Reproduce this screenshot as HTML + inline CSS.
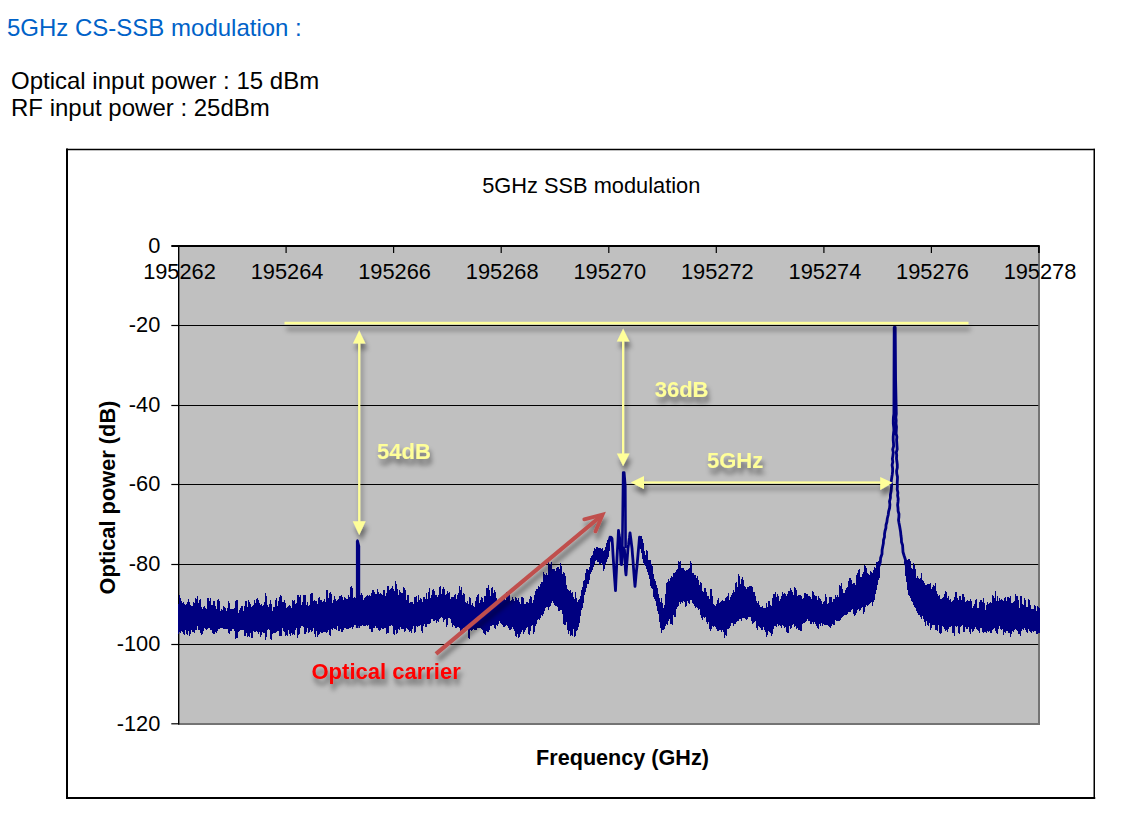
<!DOCTYPE html>
<html><head><meta charset="utf-8"><style>
html,body{margin:0;padding:0;background:#fff;width:1137px;height:820px;overflow:hidden}
.t{position:absolute;font-family:"Liberation Sans",sans-serif;white-space:nowrap;line-height:1}
svg{position:absolute;left:0;top:0}
svg text{font-family:"Liberation Sans",sans-serif}
</style></head><body>
<div class="t" style="left:7px;top:16px;font-size:24px;color:#0062C8">5GHz CS-SSB modulation :</div>
<div class="t" style="left:11px;top:69px;font-size:24px;color:#000">Optical input power : 15 dBm</div>
<div class="t" style="left:11px;top:96px;font-size:24px;color:#000">RF input power : 25dBm</div>
<svg width="1137" height="820" viewBox="0 0 1137 820">
<defs>
<filter id="sh" x="-50%" y="-50%" width="200%" height="200%">
<feGaussianBlur in="SourceAlpha" stdDeviation="2.7"/>
<feOffset dx="1.5" dy="6" result="o"/>
<feFlood flood-color="#000" flood-opacity="0.45"/>
<feComposite in2="o" operator="in"/>
<feMerge><feMergeNode/><feMergeNode in="SourceGraphic"/></feMerge>
</filter>
</defs>
<g stroke="#000" stroke-linecap="square">
<line x1="67" y1="149.5" x2="1094.25" y2="149.5" stroke-width="1.3"/>
<line x1="67" y1="149.5" x2="67" y2="798" stroke-width="2"/>
<line x1="1094.25" y1="149.5" x2="1094.25" y2="798" stroke-width="1.5"/>
<line x1="67" y1="798" x2="1094.25" y2="798" stroke-width="2"/>
</g>
<rect x="178.5" y="246" width="860.5" height="478" fill="#C0C0C0"/>
<line x1="1039" y1="246" x2="1039" y2="725" stroke="#747474" stroke-width="2"/>
<line x1="178" y1="724" x2="1040" y2="724" stroke="#747474" stroke-width="2"/>
<g stroke="#000" stroke-width="1"><line x1="179" y1="325.5" x2="1038.3" y2="325.5" /><line x1="179" y1="405.5" x2="1038.3" y2="405.5" /><line x1="179" y1="484.5" x2="1038.3" y2="484.5" /><line x1="179" y1="564.5" x2="1038.3" y2="564.5" /><line x1="179" y1="644.5" x2="1038.3" y2="644.5" /></g>
<g stroke="#000" stroke-width="1.2"><line x1="171.3" y1="325.5" x2="178.5" y2="325.5" /><line x1="171.3" y1="405.5" x2="178.5" y2="405.5" /><line x1="171.3" y1="484.5" x2="178.5" y2="484.5" /><line x1="171.3" y1="564.5" x2="178.5" y2="564.5" /><line x1="171.3" y1="644.5" x2="178.5" y2="644.5" /><line x1="171.3" y1="723.8" x2="178.5" y2="723.8" /><line x1="286.1" y1="246" x2="286.1" y2="253" /><line x1="393.6" y1="246" x2="393.6" y2="253" /><line x1="501.2" y1="246" x2="501.2" y2="253" /><line x1="608.8" y1="246" x2="608.8" y2="253" /><line x1="716.3" y1="246" x2="716.3" y2="253" /><line x1="823.9" y1="246" x2="823.9" y2="253" /><line x1="931.4" y1="246" x2="931.4" y2="253" /><line x1="1039.0" y1="246" x2="1039.0" y2="253" /></g>
<line x1="178.7" y1="245" x2="178.7" y2="724.5" stroke="#000" stroke-width="1.4"/>
<line x1="171.3" y1="246" x2="1039.5" y2="246" stroke="#000" stroke-width="2"/>
<line x1="1038.8" y1="245" x2="1038.8" y2="253" stroke="#000" stroke-width="1.4"/>
<g font-size="21.8" fill="#000"><text x="160.3" y="252.6" text-anchor="end">0</text><text x="160.3" y="332.0" text-anchor="end">-20</text><text x="160.3" y="412.0" text-anchor="end">-40</text><text x="160.3" y="491.3" text-anchor="end">-60</text><text x="160.3" y="571.1" text-anchor="end">-80</text><text x="160.3" y="651.2" text-anchor="end">-100</text><text x="160.3" y="731.3" text-anchor="end">-120</text><text x="179.5" y="278.6" text-anchor="middle">195262</text><text x="287.1" y="278.6" text-anchor="middle">195264</text><text x="394.6" y="278.6" text-anchor="middle">195266</text><text x="502.2" y="278.6" text-anchor="middle">195268</text><text x="609.8" y="278.6" text-anchor="middle">195270</text><text x="717.3" y="278.6" text-anchor="middle">195272</text><text x="824.9" y="278.6" text-anchor="middle">195274</text><text x="932.4" y="278.6" text-anchor="middle">195276</text><text x="1040.0" y="278.6" text-anchor="middle">195278</text>
<text x="591.3" y="192.8" text-anchor="middle">5GHz SSB modulation</text>
<text x="622.5" y="765" text-anchor="middle" font-weight="bold" font-size="21.6">Frequency (GHz)</text>
<text transform="translate(114.6,497.5) rotate(-90)" text-anchor="middle" font-weight="bold">Optical power (dB)</text>
</g>
<path d="M178 604h1V634h-1zM179 595h1V632h-1zM180 598h1V633h-1zM181 601h1V631h-1zM182 603h1V632h-1zM183 602h1V634h-1zM184 604h1V635h-1zM185 605h1V630h-1zM186 604h1V634h-1zM187 602h1V635h-1zM188 599h1V631h-1zM189 602h1V636h-1zM190 605h1V634h-1zM191 606h1V630h-1zM192 606h1V632h-1zM193 602h1V632h-1zM194 603h1V633h-1zM195 598h1V630h-1zM196 599h1V630h-1zM197 596h1V626h-1zM198 603h1V630h-1zM199 600h1V630h-1zM200 599h1V633h-1zM201 607h1V635h-1zM202 609h1V634h-1zM203 607h1V631h-1zM204 606h1V628h-1zM205 608h1V629h-1zM206 609h1V630h-1zM207 598h1V629h-1zM208 598h1V628h-1zM209 601h1V628h-1zM210 598h1V630h-1zM211 605h1V630h-1zM212 605h1V633h-1zM213 601h1V634h-1zM214 601h1V634h-1zM215 606h1V632h-1zM216 609h1V633h-1zM217 600h1V631h-1zM218 599h1V629h-1zM219 601h1V629h-1zM220 611h1V628h-1zM221 609h1V628h-1zM222 610h1V628h-1zM223 606h1V629h-1zM224 607h1V629h-1zM225 608h1V629h-1zM226 611h1V629h-1zM227 608h1V629h-1zM228 601h1V633h-1zM229 603h1V634h-1zM230 609h1V631h-1zM231 609h1V631h-1zM232 609h1V629h-1zM233 609h1V629h-1zM234 608h1V631h-1zM235 601h1V639h-1zM236 600h1V638h-1zM237 600h1V638h-1zM238 613h1V632h-1zM239 610h1V631h-1zM240 608h1V630h-1zM241 606h1V630h-1zM242 606h1V630h-1zM243 611h1V630h-1zM244 606h1V636h-1zM245 601h1V636h-1zM246 601h1V633h-1zM247 607h1V637h-1zM248 600h1V636h-1zM249 602h1V637h-1zM250 604h1V633h-1zM251 607h1V638h-1zM252 606h1V638h-1zM253 605h1V631h-1zM254 600h1V632h-1zM255 603h1V632h-1zM256 599h1V631h-1zM257 598h1V632h-1zM258 600h1V634h-1zM259 603h1V632h-1zM260 605h1V637h-1zM261 604h1V635h-1zM262 606h1V632h-1zM263 605h1V633h-1zM264 602h1V633h-1zM265 593h1V640h-1zM266 596h1V637h-1zM267 605h1V630h-1zM268 607h1V629h-1zM269 604h1V630h-1zM270 600h1V639h-1zM271 604h1V640h-1zM272 611h1V634h-1zM273 607h1V633h-1zM274 607h1V633h-1zM275 600h1V633h-1zM276 598h1V632h-1zM277 606h1V631h-1zM278 601h1V631h-1zM279 597h1V636h-1zM280 595h1V636h-1zM281 596h1V636h-1zM282 602h1V628h-1zM283 602h1V631h-1zM284 600h1V632h-1zM285 603h1V636h-1zM286 608h1V635h-1zM287 607h1V636h-1zM288 606h1V630h-1zM289 605h1V634h-1zM290 606h1V636h-1zM291 608h1V633h-1zM292 600h1V635h-1zM293 601h1V634h-1zM294 600h1V635h-1zM295 604h1V630h-1zM296 603h1V628h-1zM297 595h1V638h-1zM298 595h1V635h-1zM299 597h1V634h-1zM300 595h1V628h-1zM301 605h1V626h-1zM302 602h1V626h-1zM303 595h1V627h-1zM304 595h1V634h-1zM305 595h1V634h-1zM306 605h1V632h-1zM307 602h1V628h-1zM308 606h1V633h-1zM309 605h1V632h-1zM310 594h1V630h-1zM311 593h1V632h-1zM312 593h1V631h-1zM313 601h1V628h-1zM314 600h1V634h-1zM315 601h1V637h-1zM316 601h1V631h-1zM317 604h1V637h-1zM318 598h1V635h-1zM319 597h1V634h-1zM320 600h1V632h-1zM321 600h1V633h-1zM322 602h1V633h-1zM323 601h1V632h-1zM324 599h1V632h-1zM325 602h1V632h-1zM326 590h1V633h-1zM327 590h1V632h-1zM328 598h1V630h-1zM329 593h1V635h-1zM330 592h1V636h-1zM331 594h1V629h-1zM332 603h1V630h-1zM333 600h1V628h-1zM334 596h1V629h-1zM335 599h1V629h-1zM336 601h1V630h-1zM337 600h1V626h-1zM338 599h1V631h-1zM339 596h1V631h-1zM340 596h1V629h-1zM341 595h1V632h-1zM342 597h1V632h-1zM343 600h1V630h-1zM344 597h1V628h-1zM345 598h1V628h-1zM346 599h1V629h-1zM347 599h1V629h-1zM348 595h1V629h-1zM349 597h1V628h-1zM350 587h1V628h-1zM351 586h1V627h-1zM352 588h1V629h-1zM353 598h1V627h-1zM354 597h1V625h-1zM355 598h1V625h-1zM356 602h1V626h-1zM357 598h1V625h-1zM358 599h1V626h-1zM359 593h1V628h-1zM360 595h1V626h-1zM361 593h1V626h-1zM362 595h1V625h-1zM363 600h1V626h-1zM364 598h1V626h-1zM365 597h1V626h-1zM366 596h1V625h-1zM367 595h1V626h-1zM368 596h1V625h-1zM369 595h1V629h-1zM370 596h1V629h-1zM371 593h1V632h-1zM372 590h1V632h-1zM373 590h1V628h-1zM374 592h1V628h-1zM375 594h1V626h-1zM376 594h1V628h-1zM377 589h1V628h-1zM378 592h1V630h-1zM379 594h1V631h-1zM380 593h1V630h-1zM381 594h1V628h-1zM382 595h1V629h-1zM383 590h1V629h-1zM384 590h1V628h-1zM385 596h1V628h-1zM386 593h1V634h-1zM387 586h1V633h-1zM388 586h1V633h-1zM389 590h1V626h-1zM390 589h1V626h-1zM391 588h1V625h-1zM392 586h1V626h-1zM393 589h1V634h-1zM394 591h1V635h-1zM395 581h1V630h-1zM396 584h1V634h-1zM397 589h1V633h-1zM398 595h1V629h-1zM399 590h1V630h-1zM400 592h1V627h-1zM401 593h1V629h-1zM402 593h1V629h-1zM403 587h1V629h-1zM404 588h1V632h-1zM405 590h1V631h-1zM406 600h1V628h-1zM407 595h1V629h-1zM408 595h1V630h-1zM409 603h1V632h-1zM410 602h1V631h-1zM411 602h1V633h-1zM412 602h1V629h-1zM413 604h1V626h-1zM414 597h1V633h-1zM415 597h1V632h-1zM416 596h1V626h-1zM417 602h1V627h-1zM418 595h1V626h-1zM419 600h1V626h-1zM420 598h1V625h-1zM421 599h1V631h-1zM422 602h1V633h-1zM423 597h1V626h-1zM424 597h1V624h-1zM425 599h1V627h-1zM426 593h1V627h-1zM427 599h1V624h-1zM428 592h1V624h-1zM429 588h1V624h-1zM430 598h1V623h-1zM431 595h1V619h-1zM432 590h1V619h-1zM433 589h1V621h-1zM434 591h1V621h-1zM435 595h1V620h-1zM436 595h1V623h-1zM437 597h1V621h-1zM438 595h1V622h-1zM439 587h1V619h-1zM440 586h1V618h-1zM441 594h1V617h-1zM442 589h1V618h-1zM443 587h1V622h-1zM444 589h1V620h-1zM445 595h1V619h-1zM446 594h1V627h-1zM447 591h1V625h-1zM448 593h1V618h-1zM449 592h1V618h-1zM450 599h1V619h-1zM451 597h1V623h-1zM452 597h1V627h-1zM453 597h1V625h-1zM454 595h1V626h-1zM455 594h1V628h-1zM456 599h1V628h-1zM457 595h1V627h-1zM458 593h1V627h-1zM459 586h1V628h-1zM460 590h1V634h-1zM461 587h1V630h-1zM462 595h1V630h-1zM463 593h1V628h-1zM464 594h1V628h-1zM465 602h1V629h-1zM466 603h1V630h-1zM467 601h1V630h-1zM468 604h1V638h-1zM469 597h1V639h-1zM470 598h1V630h-1zM471 605h1V631h-1zM472 603h1V630h-1zM473 606h1V629h-1zM474 607h1V630h-1zM475 601h1V630h-1zM476 597h1V630h-1zM477 595h1V628h-1zM478 594h1V628h-1zM479 603h1V628h-1zM480 600h1V628h-1zM481 597h1V629h-1zM482 598h1V630h-1zM483 602h1V633h-1zM484 596h1V634h-1zM485 596h1V635h-1zM486 588h1V631h-1zM487 588h1V632h-1zM488 585h1V632h-1zM489 590h1V630h-1zM490 596h1V626h-1zM491 588h1V626h-1zM492 587h1V625h-1zM493 593h1V625h-1zM494 590h1V628h-1zM495 592h1V629h-1zM496 598h1V625h-1zM497 601h1V626h-1zM498 602h1V624h-1zM499 600h1V621h-1zM500 600h1V623h-1zM501 599h1V624h-1zM502 598h1V625h-1zM503 598h1V627h-1zM504 599h1V627h-1zM505 600h1V626h-1zM506 592h1V625h-1zM507 592h1V626h-1zM508 593h1V628h-1zM509 593h1V630h-1zM510 601h1V630h-1zM511 600h1V629h-1zM512 597h1V627h-1zM513 599h1V629h-1zM514 601h1V631h-1zM515 597h1V636h-1zM516 598h1V637h-1zM517 600h1V634h-1zM518 598h1V638h-1zM519 602h1V637h-1zM520 604h1V634h-1zM521 597h1V632h-1zM522 597h1V630h-1zM523 598h1V634h-1zM524 604h1V632h-1zM525 604h1V630h-1zM526 602h1V628h-1zM527 602h1V627h-1zM528 603h1V634h-1zM529 599h1V635h-1zM530 596h1V631h-1zM531 597h1V626h-1zM532 603h1V625h-1zM533 600h1V634h-1zM534 595h1V632h-1zM535 591h1V626h-1zM536 589h1V624h-1zM537 589h1V620h-1zM538 586h1V619h-1zM539 587h1V620h-1zM540 584h1V618h-1zM541 582h1V615h-1zM542 582h1V616h-1zM543 572h1V614h-1zM544 574h1V611h-1zM545 575h1V608h-1zM546 573h1V607h-1zM547 575h1V607h-1zM548 562h1V610h-1zM549 565h1V607h-1zM550 564h1V606h-1zM551 562h1V603h-1zM552 569h1V601h-1zM553 569h1V603h-1zM554 569h1V605h-1zM555 571h1V606h-1zM556 568h1V606h-1zM557 567h1V607h-1zM558 567h1V611h-1zM559 569h1V611h-1zM560 563h1V610h-1zM561 566h1V610h-1zM562 574h1V614h-1zM563 572h1V624h-1zM564 573h1V625h-1zM565 576h1V625h-1zM566 585h1V622h-1zM567 589h1V630h-1zM568 590h1V634h-1zM569 591h1V631h-1zM570 590h1V636h-1zM571 593h1V635h-1zM572 592h1V636h-1zM573 597h1V629h-1zM574 599h1V637h-1zM575 592h1V636h-1zM576 598h1V631h-1zM576 601h1V631h-1zM577 602h1V630h-1zM578 600h1V627h-1zM579 599h1V623h-1zM580 596h1V616h-1zM581 590h1V610h-1zM582 587h1V608h-1zM583 581h1V603h-1zM584 580h1V595h-1zM585 573h1V592h-1zM586 569h1V588h-1zM587 569h1V584h-1zM588 570h1V584h-1zM589 567h1V580h-1zM590 558h1V574h-1zM591 556h1V572h-1zM592 555h1V570h-1zM593 551h1V567h-1zM594 548h1V564h-1zM595 549h1V561h-1zM596 547h1V560h-1zM597 547h1V562h-1zM598 548h1V562h-1zM599 548h1V565h-1zM600 548h1V564h-1zM601 549h1V563h-1zM602 548h1V565h-1zM603 551h1V571h-1zM604 550h1V569h-1zM605 547h1V564h-1zM606 543h1V562h-1zM607 540h1V559h-1zM608 539h1V557h-1zM609 538h1V551h-1zM640 536h1V549h-1zM641 536h1V553h-1zM642 539h1V559h-1zM643 543h1V563h-1zM644 551h1V565h-1zM645 555h1V566h-1zM646 550h1V569h-1zM647 551h1V572h-1zM648 560h1V575h-1zM649 560h1V579h-1zM650 560h1V586h-1zM651 564h1V588h-1zM652 566h1V589h-1zM653 574h1V597h-1zM654 579h1V599h-1zM655 581h1V601h-1zM656 585h1V606h-1zM657 588h1V611h-1zM658 594h1V614h-1zM659 598h1V622h-1zM660 602h1V628h-1zM661 598h1V633h-1zM662 603h1V630h-1zM663 608h1V630h-1zM664 605h1V629h-1zM665 594h1V626h-1zM666 583h1V624h-1zM667 582h1V625h-1zM668 579h1V621h-1zM669 581h1V619h-1zM670 578h1V624h-1zM671 576h1V624h-1zM672 577h1V625h-1zM673 573h1V615h-1zM674 573h1V617h-1zM675 572h1V617h-1zM676 570h1V609h-1zM677 569h1V607h-1zM678 561h1V606h-1zM679 562h1V602h-1zM680 561h1V604h-1zM681 568h1V602h-1zM682 568h1V603h-1zM683 568h1V601h-1zM684 570h1V602h-1zM685 571h1V607h-1zM686 570h1V606h-1zM687 570h1V601h-1zM688 569h1V603h-1zM689 568h1V604h-1zM690 561h1V600h-1zM691 563h1V600h-1zM692 573h1V603h-1zM693 573h1V604h-1zM694 575h1V606h-1zM695 575h1V608h-1zM696 578h1V607h-1zM697 576h1V608h-1zM698 580h1V610h-1zM699 585h1V609h-1zM700 582h1V615h-1zM701 583h1V618h-1zM702 591h1V620h-1zM703 592h1V617h-1zM704 588h1V618h-1zM705 588h1V617h-1zM706 592h1V622h-1zM707 596h1V624h-1zM708 596h1V622h-1zM709 599h1V629h-1zM710 589h1V631h-1zM711 589h1V629h-1zM712 596h1V626h-1zM713 604h1V627h-1zM714 605h1V626h-1zM715 606h1V627h-1zM716 604h1V629h-1zM717 600h1V631h-1zM718 598h1V631h-1zM719 603h1V630h-1zM720 602h1V630h-1zM721 601h1V632h-1zM722 600h1V630h-1zM723 601h1V632h-1zM724 601h1V638h-1zM725 598h1V635h-1zM726 597h1V636h-1zM727 596h1V629h-1zM728 593h1V629h-1zM729 600h1V628h-1zM730 597h1V626h-1zM731 595h1V623h-1zM732 593h1V623h-1zM733 590h1V626h-1zM734 592h1V624h-1zM735 583h1V624h-1zM736 582h1V622h-1zM737 587h1V621h-1zM738 574h1V621h-1zM739 576h1V619h-1zM740 584h1V619h-1zM741 579h1V621h-1zM742 577h1V618h-1zM743 580h1V618h-1zM744 586h1V618h-1zM745 587h1V619h-1zM746 589h1V620h-1zM747 587h1V619h-1zM748 587h1V617h-1zM749 586h1V617h-1zM750 586h1V617h-1zM751 586h1V621h-1zM752 587h1V624h-1zM753 592h1V623h-1zM754 592h1V622h-1zM755 596h1V621h-1zM756 601h1V628h-1zM757 603h1V630h-1zM758 601h1V626h-1zM759 605h1V627h-1zM760 607h1V628h-1zM761 607h1V630h-1zM762 606h1V630h-1zM763 608h1V627h-1zM764 608h1V630h-1zM765 608h1V632h-1zM766 603h1V637h-1zM767 607h1V635h-1zM768 601h1V631h-1zM769 601h1V632h-1zM770 605h1V633h-1zM771 606h1V636h-1zM772 598h1V634h-1zM773 594h1V629h-1zM774 594h1V626h-1zM775 592h1V626h-1zM776 597h1V627h-1zM777 594h1V624h-1zM778 596h1V626h-1zM779 601h1V625h-1zM780 599h1V626h-1zM781 596h1V628h-1zM782 592h1V625h-1zM783 594h1V626h-1zM784 593h1V628h-1zM785 594h1V627h-1zM786 596h1V632h-1zM787 594h1V633h-1zM788 591h1V633h-1zM789 591h1V626h-1zM790 588h1V629h-1zM791 590h1V628h-1zM792 592h1V625h-1zM793 595h1V624h-1zM794 587h1V627h-1zM795 588h1V626h-1zM796 590h1V629h-1zM797 596h1V628h-1zM798 595h1V630h-1zM799 595h1V630h-1zM800 595h1V631h-1zM801 596h1V631h-1zM802 599h1V624h-1zM803 598h1V623h-1zM804 593h1V623h-1zM805 593h1V622h-1zM806 594h1V621h-1zM807 594h1V619h-1zM808 596h1V621h-1zM809 596h1V621h-1zM810 597h1V624h-1zM811 599h1V624h-1zM812 591h1V622h-1zM813 592h1V624h-1zM814 595h1V622h-1zM815 596h1V624h-1zM816 596h1V626h-1zM817 600h1V628h-1zM818 596h1V629h-1zM819 598h1V624h-1zM820 599h1V626h-1zM821 601h1V623h-1zM822 604h1V626h-1zM823 602h1V624h-1zM824 601h1V625h-1zM825 594h1V625h-1zM826 597h1V625h-1zM827 604h1V625h-1zM828 603h1V626h-1zM829 597h1V627h-1zM830 597h1V628h-1zM831 597h1V626h-1zM832 602h1V624h-1zM833 599h1V625h-1zM834 599h1V625h-1zM835 595h1V620h-1zM836 597h1V621h-1zM837 595h1V621h-1zM838 597h1V621h-1zM839 585h1V621h-1zM840 586h1V620h-1zM841 583h1V618h-1zM842 589h1V617h-1zM843 593h1V616h-1zM844 593h1V615h-1zM845 590h1V615h-1zM846 588h1V615h-1zM847 587h1V614h-1zM848 581h1V612h-1zM849 578h1V612h-1zM850 578h1V612h-1zM851 580h1V610h-1zM852 584h1V609h-1zM853 583h1V614h-1zM854 583h1V616h-1zM855 585h1V615h-1zM856 575h1V613h-1zM857 573h1V610h-1zM858 570h1V609h-1zM859 569h1V611h-1zM860 577h1V610h-1zM861 577h1V608h-1zM862 574h1V607h-1zM863 572h1V614h-1zM864 565h1V612h-1zM865 566h1V607h-1zM866 568h1V605h-1zM867 573h1V606h-1zM868 574h1V605h-1zM869 575h1V604h-1zM870 571h1V603h-1zM871 572h1V602h-1zM872 573h1V606h-1zM873 570h1V602h-1zM874 567h1V600h-1zM875 568h1V594h-1zM876 562h1V590h-1zM877 562h1V585h-1zM878 561h1V580h-1zM879 560h1V578h-1zM905 559h1V576h-1zM906 560h1V582h-1zM907 560h1V590h-1zM908 559h1V595h-1zM909 559h1V596h-1zM910 561h1V598h-1zM911 568h1V601h-1zM912 569h1V602h-1zM913 563h1V605h-1zM914 565h1V607h-1zM915 569h1V608h-1zM916 578h1V611h-1zM917 576h1V613h-1zM918 578h1V615h-1zM919 579h1V615h-1zM920 578h1V617h-1zM921 573h1V619h-1zM922 580h1V616h-1zM923 581h1V619h-1zM924 583h1V622h-1zM925 585h1V626h-1zM926 585h1V621h-1zM927 584h1V625h-1zM928 584h1V626h-1zM929 584h1V623h-1zM930 583h1V630h-1zM931 589h1V628h-1zM932 587h1V625h-1zM933 585h1V625h-1zM934 586h1V625h-1zM935 583h1V630h-1zM936 591h1V630h-1zM937 594h1V631h-1zM938 596h1V625h-1zM939 595h1V633h-1zM940 599h1V634h-1zM941 599h1V633h-1zM942 598h1V626h-1zM943 597h1V627h-1zM944 594h1V629h-1zM945 591h1V631h-1zM946 592h1V630h-1zM947 598h1V632h-1zM948 596h1V629h-1zM949 600h1V627h-1zM950 599h1V627h-1zM951 602h1V626h-1zM952 601h1V633h-1zM953 600h1V633h-1zM954 597h1V636h-1zM955 592h1V626h-1zM956 592h1V627h-1zM957 598h1V626h-1zM958 600h1V633h-1zM959 596h1V634h-1zM960 596h1V627h-1zM961 600h1V626h-1zM962 594h1V625h-1zM963 594h1V632h-1zM964 597h1V632h-1zM965 602h1V627h-1zM966 601h1V629h-1zM967 600h1V629h-1zM968 601h1V627h-1zM969 601h1V632h-1zM970 599h1V634h-1zM971 601h1V629h-1zM972 608h1V632h-1zM973 606h1V631h-1zM974 604h1V629h-1zM975 600h1V627h-1zM976 599h1V629h-1zM977 608h1V630h-1zM978 608h1V631h-1zM979 602h1V633h-1zM980 600h1V628h-1zM981 600h1V628h-1zM982 602h1V632h-1zM983 598h1V633h-1zM984 603h1V632h-1zM985 610h1V632h-1zM986 605h1V633h-1zM987 602h1V631h-1zM988 604h1V632h-1zM989 603h1V631h-1zM990 602h1V633h-1zM991 603h1V633h-1zM992 595h1V630h-1zM993 596h1V629h-1zM994 598h1V628h-1zM995 591h1V631h-1zM996 601h1V633h-1zM997 596h1V634h-1zM998 601h1V629h-1zM999 598h1V626h-1zM1000 600h1V629h-1zM1001 599h1V630h-1zM1002 600h1V629h-1zM1003 601h1V635h-1zM1004 598h1V632h-1zM1005 597h1V633h-1zM1006 601h1V631h-1zM1007 597h1V631h-1zM1008 597h1V633h-1zM1009 598h1V633h-1zM1010 596h1V637h-1zM1011 603h1V634h-1zM1012 603h1V631h-1zM1013 602h1V632h-1zM1014 601h1V630h-1zM1015 594h1V629h-1zM1016 596h1V630h-1zM1017 596h1V631h-1zM1018 600h1V634h-1zM1019 608h1V634h-1zM1020 596h1V636h-1zM1021 596h1V631h-1zM1022 604h1V629h-1zM1023 605h1V630h-1zM1024 598h1V628h-1zM1025 600h1V630h-1zM1026 607h1V632h-1zM1027 607h1V633h-1zM1028 599h1V629h-1zM1029 600h1V631h-1zM1030 605h1V632h-1zM1031 609h1V633h-1zM1032 609h1V631h-1zM1033 609h1V632h-1zM1034 605h1V631h-1zM1035 606h1V631h-1zM1036 611h1V634h-1zM1037 606h1V634h-1zM1038 607h1V633h-1zM1039 608h1V633h-1z" fill="#000080" shape-rendering="crispEdges"/>
<path d="M609.0 542.0 L609.5 539.6 L610.0 537.2 L610.5 537.7 L611.0 537.3 L611.5 537.6 L612.0 538.6 L612.5 545.4 L613.0 554.2 L613.5 562.2 L614.0 569.3 L614.5 576.8 L615.0 583.6 L615.5 590.6 L616.0 579.1 L616.5 569.3 L617.0 558.0 L617.5 549.0 L618.0 540.6 L618.5 530.3 L619.0 534.3 L619.5 537.2 L620.0 539.8 L620.5 552.6 L621.0 564.0 L621.5 564.6 L622.0 557.3 L622.5 550.4 L623.0 548.6 L623.5 547.9 L624.0 548.9 L624.5 550.1 L625.0 560.8 L625.5 570.5 L626.0 574.8 L626.5 567.6 L627.0 561.2 L627.5 554.3 L628.0 548.0 L628.5 544.9 L629.0 540.7 L629.5 537.2 L630.0 532.8 L630.5 536.5 L631.0 540.2 L631.5 544.4 L632.0 548.2 L632.5 554.9 L633.0 560.4 L633.5 567.8 L634.0 574.5 L634.5 580.6 L635.0 586.4 L635.5 581.3 L636.0 575.5 L636.5 570.4 L637.0 566.0 L637.5 560.2 L638.0 554.5 L638.5 548.9 L639.0 543.3 L639.5 537.2 L640.0 538.2 L640.5 539.2 L641.0 540.3 M879.1 566.0 L880.3 562.0 L880.6 558.0 L882.0 554.0 L882.1 550.0 L882.7 546.7 L883.4 543.3 L883.5 540.0 L884.5 537.0 L884.5 534.0 L885.0 531.0 L885.9 528.0 L886.0 525.0 L886.9 522.0 L887.3 518.5 L888.2 515.0 L888.6 511.5 L889.6 508.0 L889.9 504.7 L889.5 501.3 L890.4 498.0 L890.4 494.7 L891.1 491.3 L891.4 488.0 L891.7 484.7 L891.2 481.4 L891.7 478.1 L892.2 474.9 L892.6 471.6 L892.6 468.3 L892.1 465.0 L892.8 461.9 L892.4 458.8 L892.9 455.6 L893.3 452.5 L892.7 449.4 L893.6 446.2 L893.5 443.1 L893.2 440.0 L893.2 436.8 L893.5 433.5 L893.9 430.2 L893.7 427.0 L893.3 423.8 L893.3 420.5 L893.4 417.2 L893.9 414.0 L894.0 380.0 L894.2 327.5 L895.2 327.5 L895.6 380.0 L896.3 414.0 L895.8 417.2 L896.2 420.5 L896.0 423.8 L896.5 427.0 L896.3 430.2 L896.1 433.5 L896.9 436.8 L896.6 440.0 L896.8 443.1 L897.0 446.2 L897.2 449.2 L896.3 452.3 L896.7 455.4 L896.5 458.5 L896.9 461.5 L897.3 464.6 L897.3 467.7 L896.6 470.8 L896.8 473.8 L897.5 476.9 L897.4 480.0 L897.2 483.1 L897.4 486.2 L897.2 489.4 L897.9 492.5 L897.6 495.6 L898.2 498.8 L898.0 501.9 L897.6 505.0 L898.0 508.0 L898.1 511.0 L899.0 514.0 L898.9 517.0 L898.5 520.0 L899.0 523.0 L899.6 526.0 L900.1 529.0 L900.6 532.0 L900.9 535.3 L901.4 538.7 L901.5 542.0 L902.6 545.3 L902.8 548.7 L903.0 552.0 L904.2 556.0 L905.5 560.0 L905.3 563.0 L906.5 566.0" fill="none" stroke="#000080" stroke-width="2.8" stroke-linejoin="round"/>
<path d="M357.2 628.0 L357.2 541.0 M622.3 548.0 L623.2 472.5 L624.2 472.5 L625.3 486.0 L625.6 548.0" fill="none" stroke="#000080" stroke-width="2.6" stroke-linejoin="round"/>
<path d="M356 600V540.5Q357.5 538 358.8 540.5L360.2 546V600Z" fill="#000080"/>
<g filter="url(#sh)" fill="#FFFF99">
<rect x="284.5" y="321.8" width="684" height="2.6"/>
<rect x="358.1" y="340" width="2.2" height="184"/>
<path d="M359.2 330.5 L365.5 343.5 L352.9 343.5 Z"/>
<path d="M359.2 535 L365.7 521.3 L352.7 521.3 Z"/>
<rect x="622" y="338" width="2.2" height="118"/>
<path d="M623.1 328.7 L629.5 341.6 L616.8 341.6 Z"/>
<path d="M623.1 466 L629.6 453.4 L616.8 453.4 Z"/>
<rect x="640" y="481.4" width="244" height="2.1"/>
<path d="M630.7 482.5 L644 475.9 L644 489.1 Z"/>
<path d="M892.8 482.8 L880.2 476.9 L880.2 489.9 Z"/>
</g>
<g filter="url(#sh)" font-size="22" font-weight="bold">
<text x="377" y="458.7" fill="#FFFF99">54dB</text>
<text x="654.7" y="396.6" fill="#FFFF99">36dB</text>
<text x="707" y="467.8" fill="#FFFF99">5GHz</text>
<text x="311.5" y="679.2" fill="#FF0000">Optical carrier</text>
</g>
<g filter="url(#sh)" stroke="#C0504D" stroke-width="3.8" stroke-linecap="round" stroke-linejoin="round" fill="none">
<path d="M436 653.8 L601 516" stroke-width="4.2" stroke-linecap="butt"/>
<path d="M584.3 519.4 L602.6 514.6 L595.4 531.4" stroke-linejoin="miter" stroke-miterlimit="10"/>
</g>
</svg>
</body></html>
